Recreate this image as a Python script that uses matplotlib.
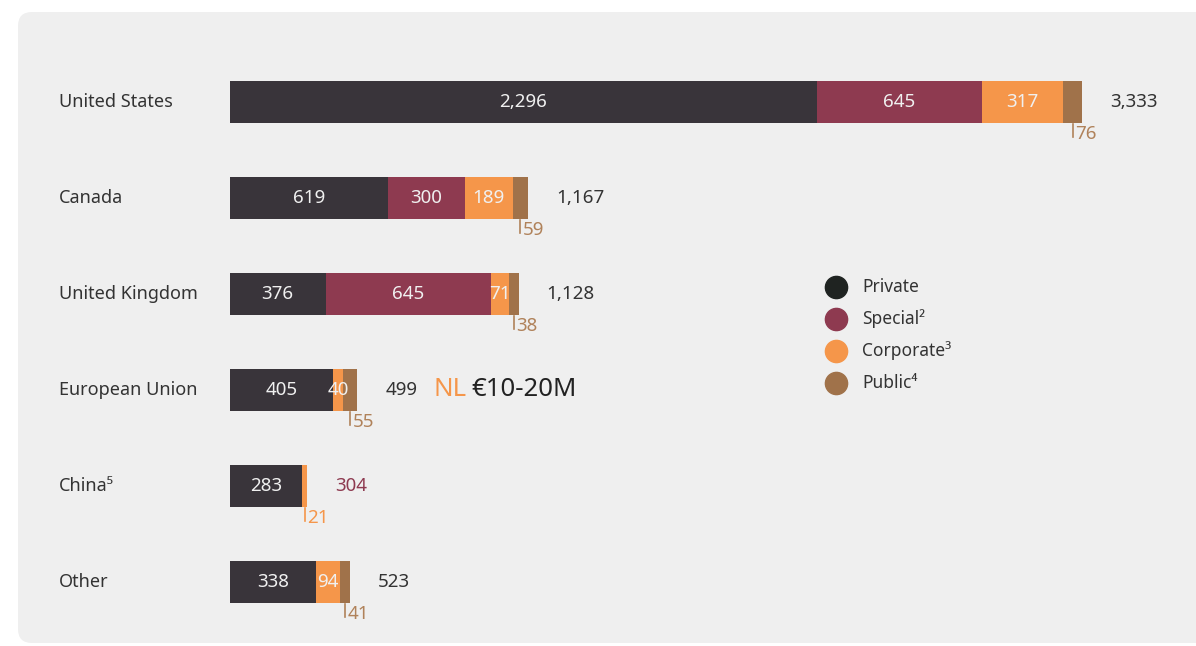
import matplotlib
matplotlib.use("Agg")
import matplotlib.pyplot as plt
import matplotlib.transforms as mtransforms
from matplotlib.patches import FancyBboxPatch

plt.rcParams['font.family'] = ['Noto Sans', 'DejaVu Sans']

# Data
countries = ["United States", "Canada", "United Kingdom", "European Union", "China⁵", "Other"]
private = [2296, 619, 376, 405, 283, 338]
special = [645, 300, 645, 0, 0, 0]
corporate = [317, 189, 71, 40, 21, 94]
public = [76, 59, 38, 55, 0, 41]
totals = ["3,333", "1,167", "1,128", "499", "304", "523"]

series_names = ["Private", "Special²", "Corporate³", "Public⁴"]
bar_colors = ["#39343a", "#8e3a50", "#f5964a", "#a0724a"]
legend_colors = ["#1f2321", "#8e3a50", "#f5964a", "#a0724a"]
label_brown = "#b0825a"
text_dark = "#333333"
bg = "#efefef"

W, H = 1196, 646
fig = plt.figure(figsize=(W / 100, H / 100), dpi=100)
fig.patch.set_facecolor("white")

# rounded grey panel (display pixels)
panel = FancyBboxPatch((18, 3), 1250, 631, boxstyle="round,pad=0,rounding_size=14",
                       transform=None, facecolor=bg, edgecolor="none", zorder=-10)
fig.patches.append(panel)

# axes: x=0 at pixel 229.5, 0.2558 px per unit; rows 96 px apart
px_per_unit = 0.2558
x0 = 229.5
ax_top, ax_bot = 54, 630
ax = fig.add_axes([x0 / W, (H - ax_bot) / H, (W - x0) / W, (ax_bot - ax_top) / H])
ax.set_zorder(1)
ax.set_xlim(0, (W - x0) / px_per_unit)
ax.set_ylim(5.5, -0.5)
ax.axis("off")
ax.patch.set_alpha(0)

bar_h = 42 / 96
ypos = list(range(len(countries)))
segments = [private, special, corporate, public]

left = [0] * len(countries)
for vals, col in zip(segments, bar_colors):
    ax.barh(ypos, vals, left=left, height=bar_h, color=col, edgecolor="none", zorder=2)
    left = [l + v for l, v in zip(left, vals)]
ends = left

# labels inside segments (private, special, corporate)
for i in ypos:
    start = 0
    for k, vals in enumerate(segments[:3]):
        v = vals[i]
        if v > 0 and not (i == 4 and k == 2):
            ax.text(start + v / 2, i, f"{v:,}", ha="center", va="center",
                    color="#f0f0f0", fontsize=13.5, zorder=3)
        start += v

# small callout below bar for public (or corporate for China)
for i in ypos:
    if public[i] > 0:
        cx = ends[i] - public[i] / 2
        val, col = public[i], label_brown
    else:
        cx = private[i] + special[i] + corporate[i] / 2
        val, col = corporate[i], "#f5964a"
    ax.plot([cx, cx], [i + bar_h / 2 + 0.01, i + bar_h / 2 + 0.15], color=col, lw=1.2, zorder=2)
    ax.annotate(str(val), xy=(cx, i + bar_h / 2), xytext=(2, -1.5), textcoords="offset points",
                ha="left", va="top", color=col, fontsize=13.5)

# totals
for i in ypos:
    col = "#8e3a50" if i == 4 else text_dark
    ax.annotate(totals[i], xy=(ends[i], i), xytext=(20, 0), textcoords="offset points",
                ha="left", va="center", color=col, fontsize=13.5)

# category labels
tr = mtransforms.blended_transform_factory(fig.transFigure, ax.transData)
for i, name in enumerate(countries):
    ax.text(59 / W, i, name, transform=tr, ha="left", va="center", color=text_dark, fontsize=13)

# NL annotation
ax.annotate("NL", xy=(ends[3], 3), xytext=(55, 0), textcoords="offset points",
            ha="left", va="center", color="#f5964a", fontsize=18.5)
ax.annotate("€10-20M", xy=(ends[3], 3), xytext=(82, 0), textcoords="offset points",
            ha="left", va="center", color="#222222", fontsize=18.5)

# legend
for k, (name, col) in enumerate(zip(series_names, legend_colors)):
    yy = (H - (287 + 32 * k)) / H
    fig.add_artist(plt.Line2D([836 / W], [yy], marker="o", markersize=16, color=col,
                              linestyle="none", transform=fig.transFigure))
    fig.text(862 / W, yy, name, ha="left", va="center", color=text_dark, fontsize=12.5)

fig.savefig("out.png", dpi=100, facecolor="white")
